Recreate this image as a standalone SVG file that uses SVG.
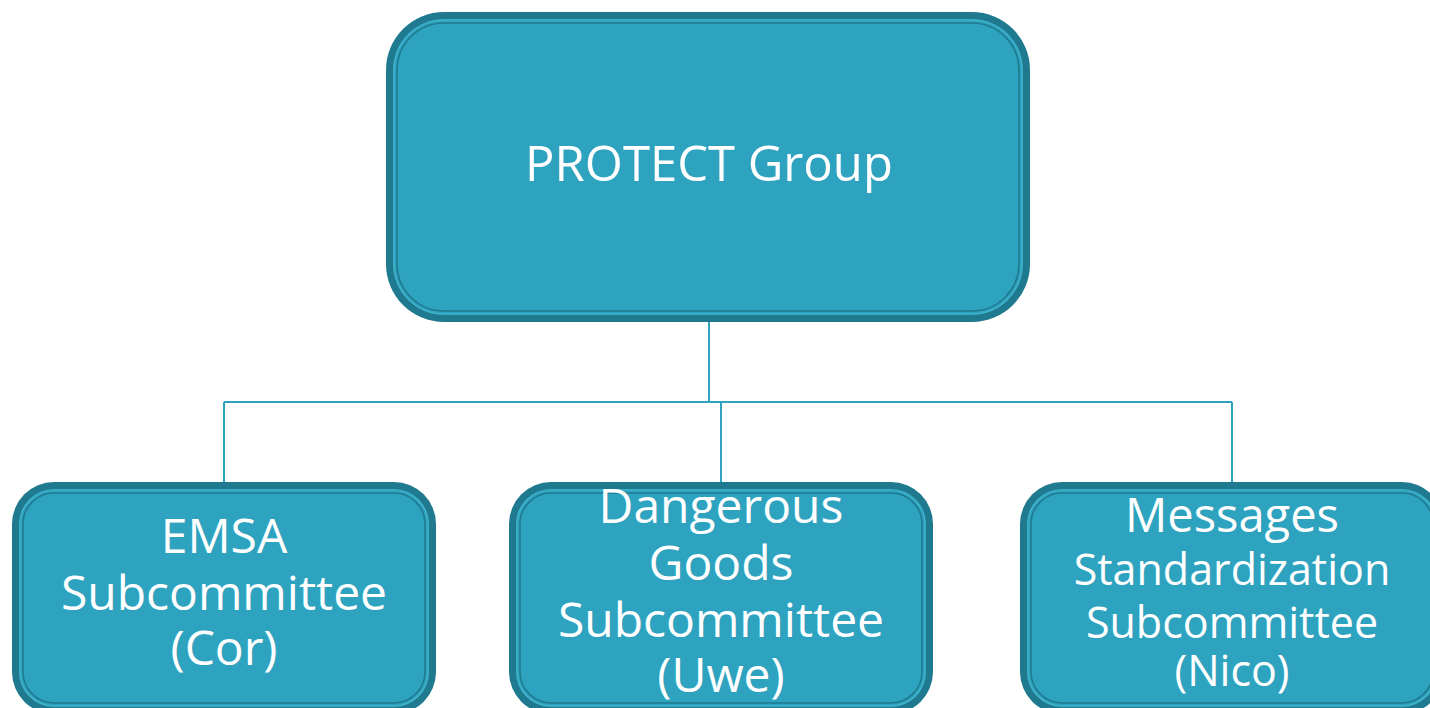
<svg xmlns="http://www.w3.org/2000/svg" width="1430" height="708" viewBox="0 0 1430 708">
<style>
.outer{fill:#1f7a8f}
.fill{fill:#2ea3bf}
.inner{fill:none;stroke:#1f7a8f;stroke-width:1.6}
.hl{fill:none;stroke:#45b3cc;stroke-width:1.2}
.t{font-family:"Open Sans","Noto Sans",sans-serif;fill:#ffffff;text-anchor:middle}
.conn{fill:none;stroke:#2ea3bf;stroke-width:2}
</style>
<rect width="1430" height="708" fill="#ffffff"/>
<g id="connectors">
<path class="conn" d="M709 318 V402 M224 402 H1232 M224 402 V486 M721 402 V486 M1232 402 V486"/>
</g>
<g id="protect">
<rect class="outer" x="386" y="12" width="644" height="310" rx="58"/>
<rect class="fill" x="393" y="19" width="630" height="296" rx="51"/>
<rect class="hl" x="394" y="20" width="628" height="294" rx="50"/>
<rect class="inner" x="397" y="23" width="622" height="288" rx="47"/>
<text class="t" x="709" y="181" font-size="49">PROTECT Group</text>
</g>
<g id="emsa">
<rect class="outer" x="12" y="482" width="424" height="232" rx="42"/>
<rect class="fill" x="19" y="489" width="410" height="218" rx="35"/>
<rect class="hl" x="20" y="490" width="408" height="216" rx="34"/>
<rect class="inner" x="23" y="493" width="402" height="210" rx="31"/>
<text class="t" font-size="48"><tspan x="224" y="553">EMSA</tspan><tspan x="224" y="610">Subcommittee</tspan><tspan x="224" y="665">(Cor)</tspan></text>
</g>
<g id="dangerous">
<rect class="outer" x="509" y="482" width="424" height="232" rx="42"/>
<rect class="fill" x="516" y="489" width="410" height="218" rx="35"/>
<rect class="hl" x="517" y="490" width="408" height="216" rx="34"/>
<rect class="inner" x="520" y="493" width="402" height="210" rx="31"/>
<text class="t" font-size="48"><tspan x="721" y="523">Dangerous</tspan><tspan x="721" y="580">Goods</tspan><tspan x="721" y="637">Subcommittee</tspan><tspan x="721" y="692">(Uwe)</tspan></text>
</g>
<g id="messages">
<rect class="outer" x="1020" y="482" width="424" height="232" rx="42"/>
<rect class="fill" x="1027" y="489" width="410" height="218" rx="35"/>
<rect class="hl" x="1028" y="490" width="408" height="216" rx="34"/>
<rect class="inner" x="1031" y="493" width="402" height="210" rx="31"/>
<text class="t"><tspan x="1232" y="532" font-size="47">Messages</tspan><tspan x="1232" y="585" font-size="43">Standardization</tspan><tspan x="1232" y="638" font-size="43">Subcommittee</tspan><tspan x="1232" y="686" font-size="43">(Nico)</tspan></text>
</g>
</svg>
